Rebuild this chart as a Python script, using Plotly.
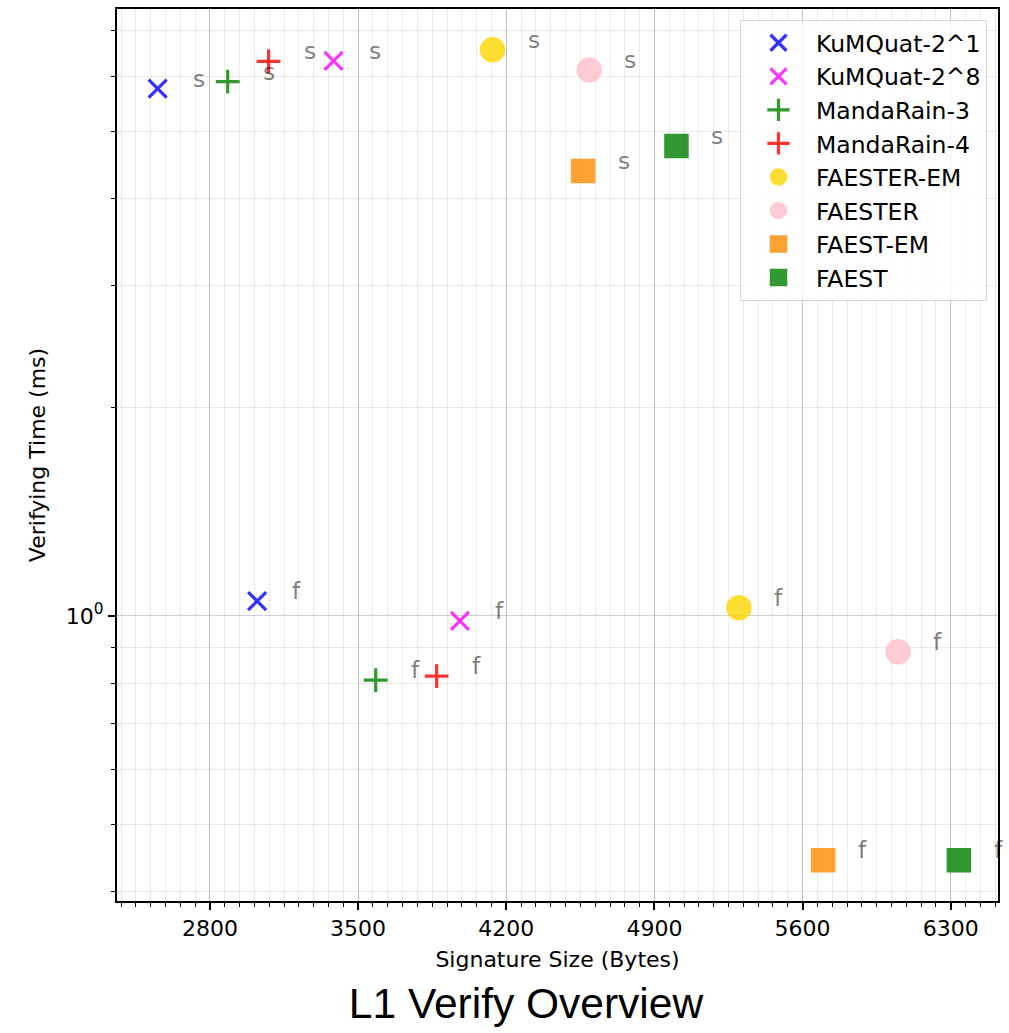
import math
import plotly.graph_objects as go

# Signature size (bytes) and verification time (ms) for each scheme,
# "s" = small-signature parameter set, "f" = fast parameter set.
schemes = ["KuMQuat-2^1", "KuMQuat-2^8", "MandaRain-3", "MandaRain-4",
           "FAESTER-EM", "FAESTER", "FAEST-EM", "FAEST"]
sig_s = [2553, 3384, 2884, 3077, 4135, 4592, 4563, 5004]
time_s = [5.77, 6.33, 5.91, 6.32, 6.57, 6.14, 4.39, 4.77]
sig_f = [3023, 3981, 3583, 3871, 5299, 6051, 5697, 6338]
time_f = [1.051, 0.984, 0.808, 0.819, 1.028, 0.888, 0.444, 0.444]
variant_labels = ["s", "f"]

x_ticks = [2800, 3500, 4200, 4900, 5600, 6300]
y_minor_ticks = [0.4, 0.5, 0.6, 0.7, 0.8, 0.9, 2, 3, 4, 5, 6, 7]

# marker styling per scheme
style = {
    "KuMQuat-2^1": dict(symbol="x-thin", color="rgb(0,0,255)", size=18),
    "KuMQuat-2^8": dict(symbol="x-thin", color="rgb(255,0,255)", size=18),
    "MandaRain-3": dict(symbol="cross-thin", color="rgb(0,128,0)", size=17),
    "MandaRain-4": dict(symbol="cross-thin", color="rgb(255,0,0)", size=17),
    "FAESTER-EM": dict(symbol="circle", color="rgb(255,215,0)", size=24),
    "FAESTER": dict(symbol="circle", color="rgb(255,192,203)", size=24),
    "FAEST-EM": dict(symbol="square", color="rgb(255,140,0)", size=23),
    "FAEST": dict(symbol="square", color="rgb(0,128,0)", size=23),
}

FONT = "DejaVu Sans"
fig = go.Figure()
annotations = []
for i, name in enumerate(schemes):
    st = style[name]
    thin = st["symbol"].endswith("thin")
    xs = [sig_s[i], sig_f[i]]
    ys = [time_s[i], time_f[i]]
    fig.add_trace(go.Scatter(
        x=xs, y=ys, mode="markers", name=name, legendgroup=name,
        marker=dict(symbol=st["symbol"], size=st["size"], color=st["color"],
                    opacity=0.8,
                    line=dict(color=st["color"], width=3.2 if thin else 1.5)),
    ))
    # variant label next to each point (log axis -> annotation y in log10)
    for xv, yv, lab in zip(xs, ys, variant_labels):
        annotations.append(dict(
            x=xv, y=math.log10(yv), xref="x", yref="y", text=lab,
            showarrow=False, xanchor="left", yanchor="bottom",
            xshift=33, yshift=-6,
            font=dict(family=FONT, size=23.5, color="rgba(0,0,0,0.5)"),
        ))

fig.update_layout(
    width=1009, height=1033,
    margin=dict(l=117, r=11, t=7, b=132),
    paper_bgcolor="white", plot_bgcolor="white",
    font=dict(family=FONT, size=22, color="black"),
    title=dict(text="L1 Verify Overview", x=526 / 1009, xanchor="center",
               y=1 - 1003 / 1033, yanchor="middle", yref="container",
               font=dict(family="Liberation Sans", size=42.5, color="black")),
    annotations=annotations,
    legend=dict(x=0.9875, xanchor="right", y=0.9877, yanchor="top",
                bgcolor="rgba(255,255,255,0.8)", bordercolor="#d6d6d6",
                borderwidth=1, font=dict(family=FONT, size=23.5),
                traceorder="grouped", tracegroupgap=0, itemwidth=65),
    showlegend=True,
)

fig.update_xaxes(
    range=[2361, 6523], tickmode="array", tickvals=x_ticks,
    ticks="outside", ticklen=7, tickwidth=1.5, tickcolor="black",
    showline=True, linecolor="black", linewidth=2, mirror=True,
    showgrid=True, gridcolor="rgba(0,0,0,0.18)", gridwidth=1,
    zeroline=False, tickfont=dict(size=22),
    title=dict(text="Signature Size (Bytes)", font=dict(size=22), standoff=11),
    minor=dict(dtick=70, tick0=0, ticks="outside", ticklen=4, tickwidth=1.2,
               tickcolor="black", showgrid=True,
               gridcolor="rgba(0,0,0,0.08)", gridwidth=1),
)

fig.update_yaxes(
    type="log", range=[-0.4115, 0.8763], tickmode="array", tickvals=[1],
    ticktext=["10<sup>0</sup>"],
    ticks="outside", ticklen=7, tickwidth=1.5, tickcolor="black",
    showline=True, linecolor="black", linewidth=2, mirror=True,
    showgrid=True, gridcolor="rgba(0,0,0,0.18)", gridwidth=1,
    zeroline=False, tickfont=dict(size=22),
    title=dict(text="Verifying Time (ms)", font=dict(size=22), standoff=14),
    minor=dict(tickmode="array", tickvals=y_minor_ticks, ticks="outside",
               ticklen=4, tickwidth=1.2, tickcolor="black", showgrid=True,
               gridcolor="rgba(0,0,0,0.08)", gridwidth=1),
)

fig.write_html("out.html")
